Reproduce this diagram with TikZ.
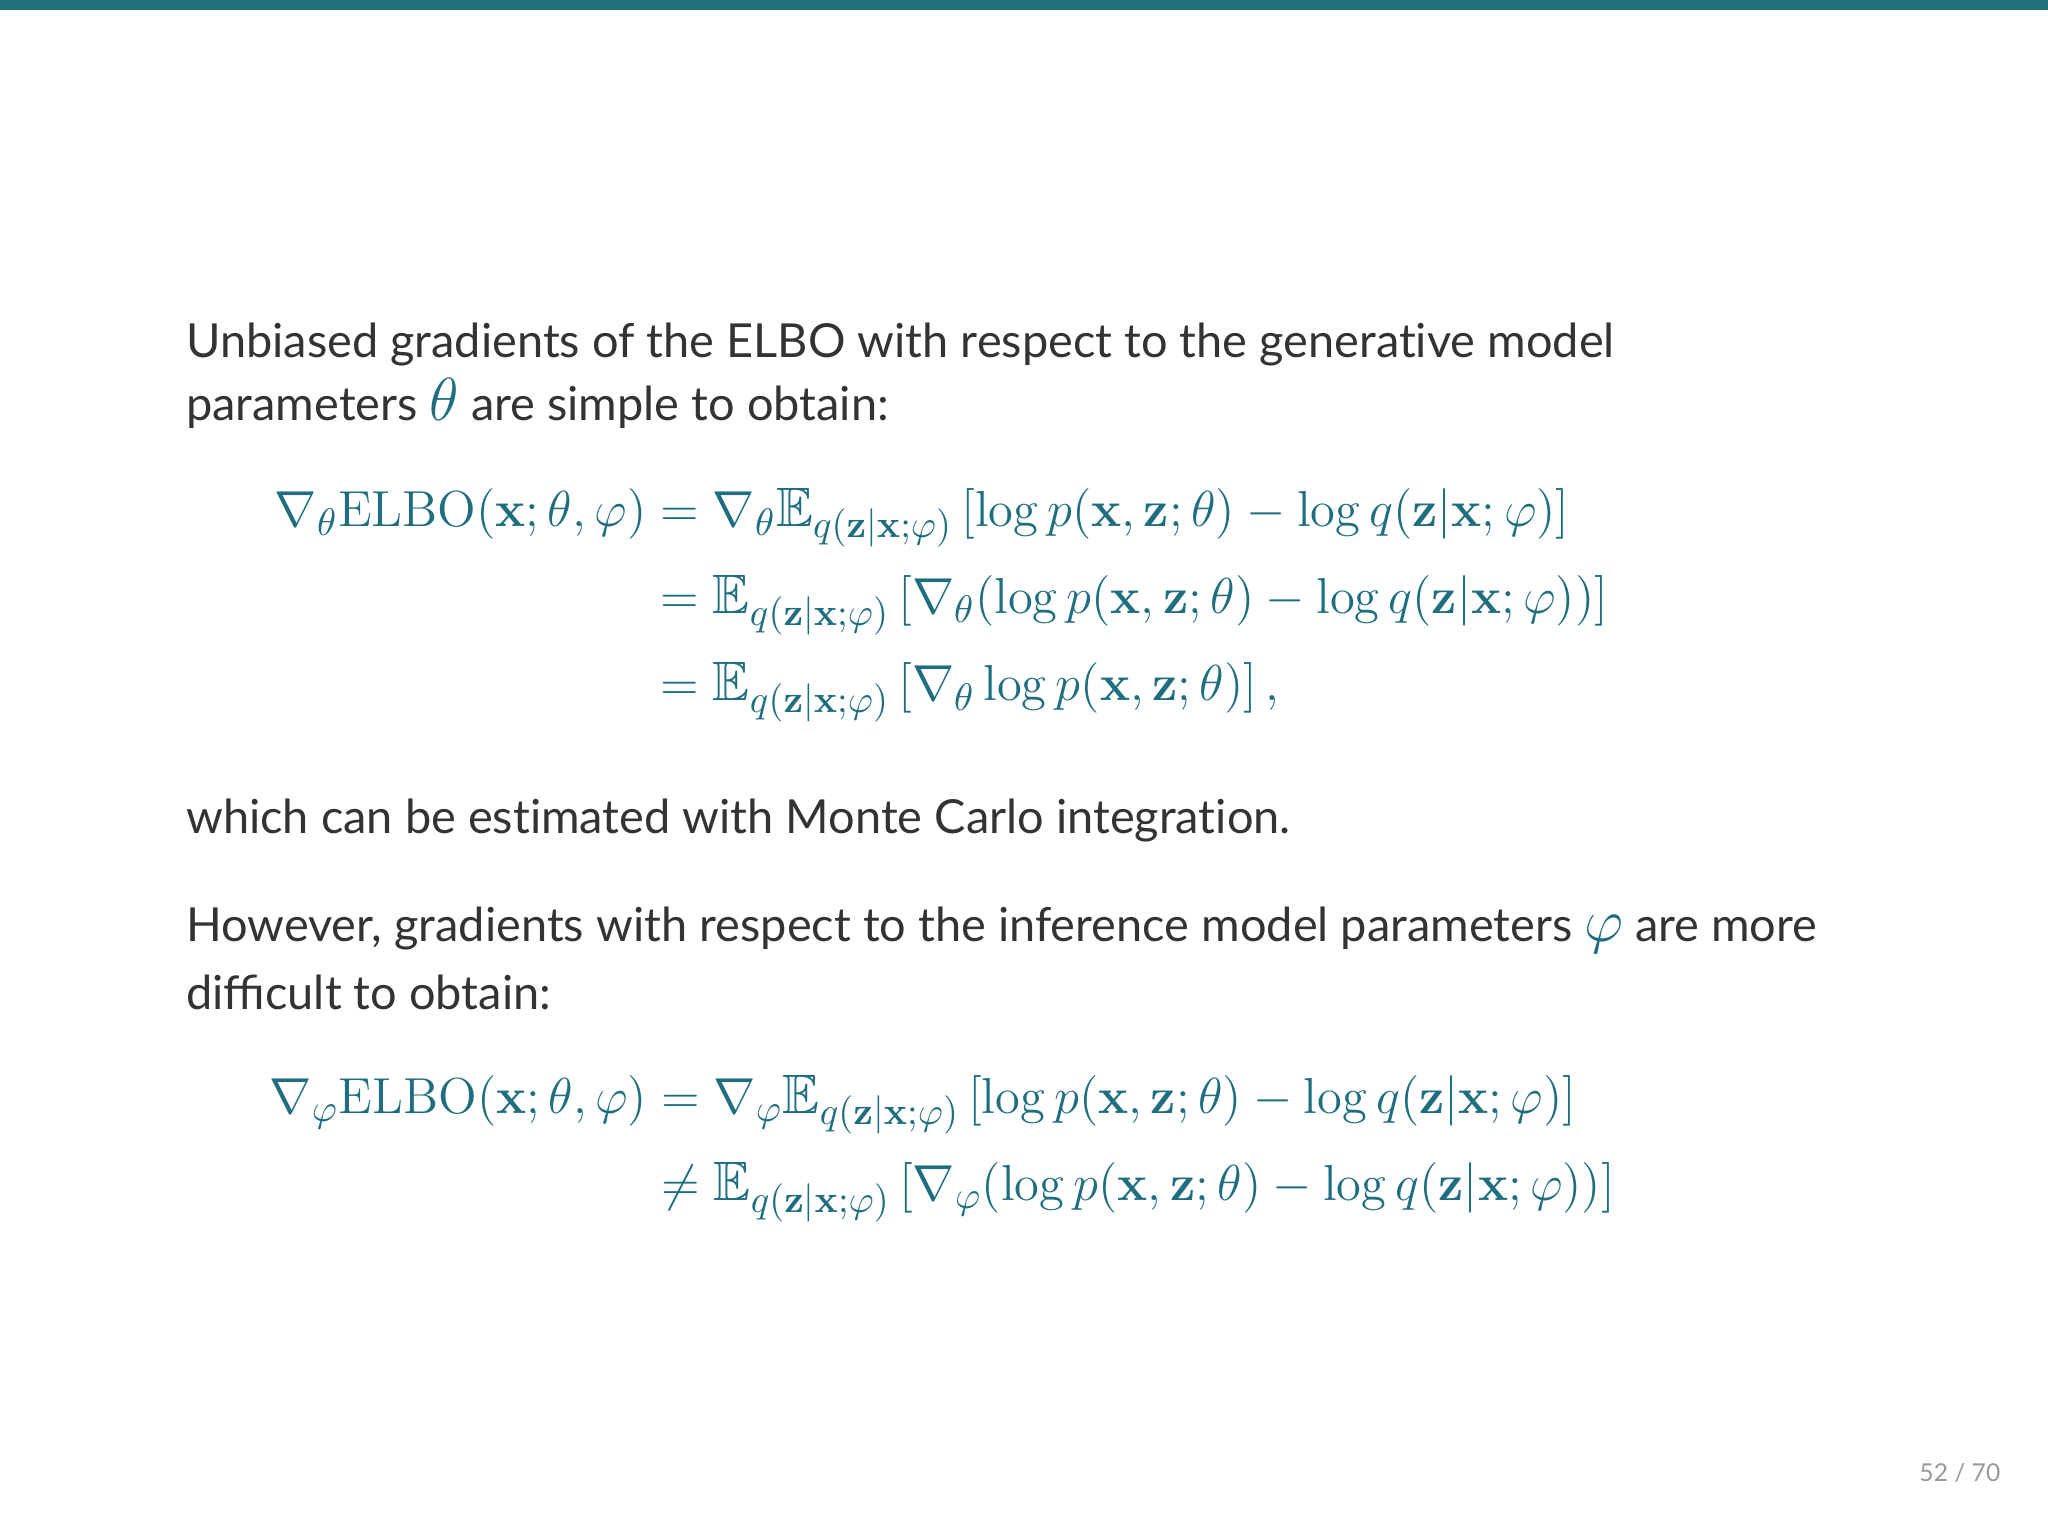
\documentclass[tikz,border=0pt]{standalone}
\usepackage{amsmath,amssymb}
\usepackage[no-math]{fontspec}
\setmainfont[RawFeature={-liga}]{Lato}
\definecolor{teal1}{HTML}{1F6E80}
\definecolor{bar}{HTML}{23707F}
\definecolor{txt}{HTML}{333333}
\newcommand{\bigsym}[1]{\textcolor{teal1}{\fontsize{17}{17}\selectfont$#1$}}
\tikzset{body/.style={anchor=base west,inner sep=0,text=txt,font=\fontsize{13.35}{16}\selectfont},
 eq/.style={anchor=west,inner sep=0,text=teal1,font=\fontsize{15.8}{19}\selectfont}}
\begin{document}
\begin{tikzpicture}[x=0.013061cm,y=-0.013061cm]
\useasboundingbox (0,0) rectangle (1568,1174);
\fill[bar] (0,0) rectangle (1568,8);
\node[body] (t1) at (142,274) {Unbiased gradients of the ELBO with respect to the generative model};
\node[body] (t2) at (142,322) {parameters \bigsym{\theta} are simple to obtain:};
\node[eq] (e1) at (210,460) {$\begin{aligned}
\nabla_\theta \mathrm{ELBO}(\mathbf{x};\theta,\varphi) &= \nabla_\theta \mathbb{E}_{q(\mathbf{z}|\mathbf{x};\varphi)}\left[\log p(\mathbf{x},\mathbf{z};\theta) - \log q(\mathbf{z}|\mathbf{x};\varphi)\right]\\[1.5pt]
&= \mathbb{E}_{q(\mathbf{z}|\mathbf{x};\varphi)}\left[\nabla_\theta(\log p(\mathbf{x},\mathbf{z};\theta) - \log q(\mathbf{z}|\mathbf{x};\varphi))\right]\\[1.5pt]
&= \mathbb{E}_{q(\mathbf{z}|\mathbf{x};\varphi)}\left[\nabla_\theta \log p(\mathbf{x},\mathbf{z};\theta)\right],
\end{aligned}$};
\node[body] (t3) at (142,638) {which can be estimated with Monte Carlo integration.};
\node[body] (t4) at (142,721) {However, gradients with respect to the inference model parameters \bigsym{\varphi} are more};
\node[body] (t5) at (142,773) {di^^^^fb03cult to obtain:};
\node[eq] (e2) at (206,876) {$\begin{aligned}
\nabla_\varphi \mathrm{ELBO}(\mathbf{x};\theta,\varphi) &= \nabla_\varphi \mathbb{E}_{q(\mathbf{z}|\mathbf{x};\varphi)}\left[\log p(\mathbf{x},\mathbf{z};\theta) - \log q(\mathbf{z}|\mathbf{x};\varphi)\right]\\[1.5pt]
&\neq \mathbb{E}_{q(\mathbf{z}|\mathbf{x};\varphi)}\left[\nabla_\varphi(\log p(\mathbf{x},\mathbf{z};\theta) - \log q(\mathbf{z}|\mathbf{x};\varphi))\right]
\end{aligned}$};
\node[anchor=base east,inner sep=0,text=gray!80,font=\fontsize{7}{8}\selectfont] (pg) at (1532,1134) {52 / 70};
\end{tikzpicture}
\end{document}
